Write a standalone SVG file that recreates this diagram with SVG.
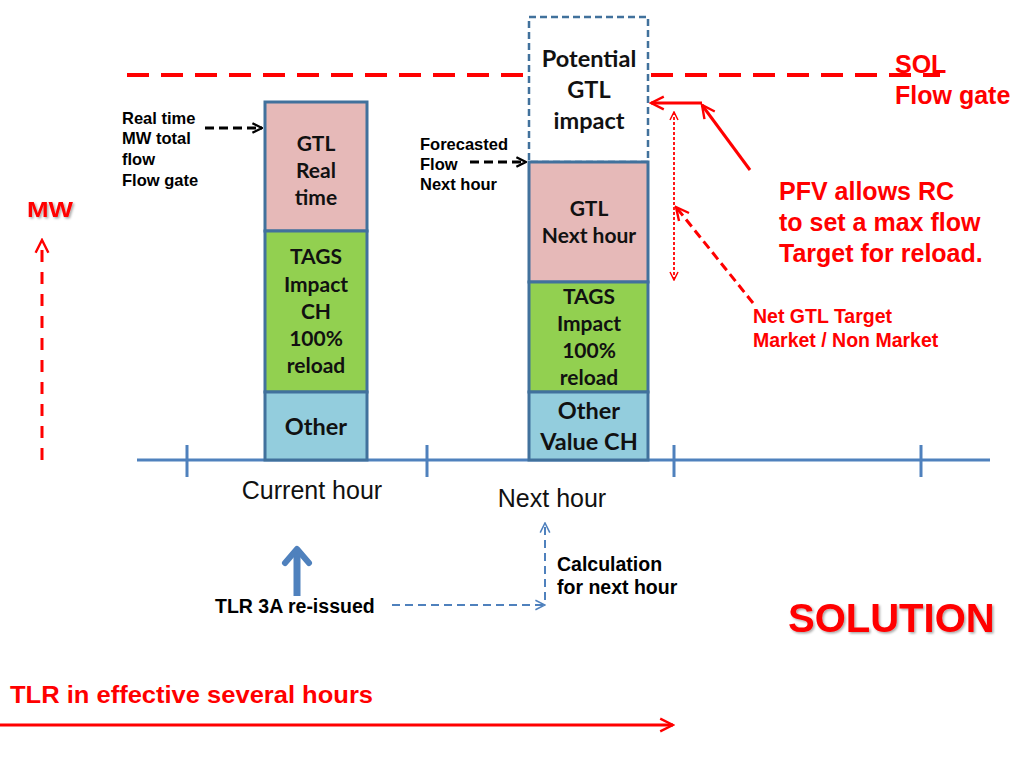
<svg xmlns="http://www.w3.org/2000/svg" width="1024" height="768" viewBox="0 0 1024 768">
<defs>
<style>
.bar{stroke:#41719C;stroke-width:3}
.pink{fill:#E6B9B8}.green{fill:#92D050}.blue{fill:#93CDDD}
.bt{font-family:Lato,"Open Sans",sans-serif;font-weight:bold;font-size:21px;fill:#111;text-anchor:middle}
.bl{font-family:Lato,"Open Sans",sans-serif;font-weight:bold;font-size:23.5px;fill:#111;text-anchor:middle}
.lab{font-family:"Liberation Sans",Arial,sans-serif;font-weight:bold;font-size:16.5px;fill:#000}
.lab2{font-family:"Liberation Sans",Arial,sans-serif;font-weight:bold;font-size:19.5px;fill:#000}
.red{font-family:"Liberation Sans",Arial,sans-serif;font-weight:bold;fill:#F00}
.reg{font-family:"Liberation Sans",Arial,sans-serif;font-size:25px;fill:#111;text-anchor:middle}
</style>
<marker id="ab" viewBox="0 0 10 10" refX="9" refY="5" markerWidth="12" markerHeight="12" orient="auto" markerUnits="userSpaceOnUse"><path d="M1,1 L9,5 L1,9" fill="none" stroke="#000" stroke-width="2"/></marker>
<marker id="ar" viewBox="0 0 10 10" refX="9" refY="5" markerWidth="16" markerHeight="16" orient="auto" markerUnits="userSpaceOnUse"><path d="M1,1 L9,5 L1,9" fill="none" stroke="#F00" stroke-width="1.5"/></marker>
<marker id="ars" viewBox="0 0 10 10" refX="9" refY="5" markerWidth="10" markerHeight="10" orient="auto-start-reverse" markerUnits="userSpaceOnUse"><path d="M1,1 L9,5 L1,9" fill="none" stroke="#F00" stroke-width="1.5"/></marker>
<marker id="abl" viewBox="0 0 10 10" refX="9" refY="5" markerWidth="12" markerHeight="12" orient="auto" markerUnits="userSpaceOnUse"><path d="M1,1 L9,5 L1,9" fill="none" stroke="#4F81BD" stroke-width="1.3"/></marker>
<filter id="sh" x="-10%" y="-10%" width="130%" height="140%"><feDropShadow dx="1.5" dy="1.5" stdDeviation="0.8" flood-color="#000" flood-opacity="0.35"/></filter>
</defs>
<rect width="1024" height="768" fill="#fff"/>

<g id="sol-line">
<line x1="127" y1="75" x2="528" y2="75" stroke="#F00" stroke-width="4" stroke-dasharray="22,12"/>
<line x1="651" y1="75" x2="940" y2="75" stroke="#F00" stroke-width="4" stroke-dasharray="22,12"/>
</g>

<g id="axis">
<line x1="137" y1="460" x2="990" y2="460" stroke="#4F81BD" stroke-width="3"/>
<line x1="187" y1="445" x2="187" y2="477" stroke="#4F81BD" stroke-width="3"/>
<line x1="427" y1="445" x2="427" y2="477" stroke="#4F81BD" stroke-width="3"/>
<line x1="674" y1="445" x2="674" y2="477" stroke="#4F81BD" stroke-width="3"/>
<line x1="921" y1="445" x2="921" y2="477" stroke="#4F81BD" stroke-width="3"/>
</g>

<g id="bar-current">
<rect class="bar pink" x="265" y="102" width="102" height="129"/>
<rect class="bar green" x="265" y="231" width="102" height="161"/>
<rect class="bar blue" x="265" y="392" width="102" height="68"/>
<text class="bt" x="316" y="151">GTL</text>
<text class="bt" x="316" y="178">Real</text>
<text class="bt" x="316" y="205">time</text>
<text class="bt" x="316" y="264">TAGS</text>
<text class="bt" x="316" y="292">Impact</text>
<text class="bt" x="316" y="319">CH</text>
<text class="bt" x="316" y="346">100%</text>
<text class="bt" x="316" y="373">reload</text>
<text class="bl" x="316" y="435">Other</text>
</g>

<g id="bar-next">
<rect x="529" y="17" width="119" height="145" fill="#fff" stroke="#41719C" stroke-width="2.5" stroke-dasharray="7,4"/>
<rect class="bar pink" x="529" y="162" width="119" height="120"/>
<rect class="bar green" x="529" y="282" width="119" height="110"/>
<rect class="bar blue" x="529" y="392" width="119" height="68"/>
<text class="bl" x="589" y="67">Potential</text>
<text class="bl" x="589" y="98">GTL</text>
<text class="bl" x="589" y="129">impact</text>
<text class="bt" x="589" y="216">GTL</text>
<text class="bt" x="589" y="243">Next hour</text>
<text class="bt" x="589" y="304">TAGS</text>
<text class="bt" x="589" y="331">Impact</text>
<text class="bt" x="589" y="358">100%</text>
<text class="bt" x="589" y="385">reload</text>
<text class="bl" x="589" y="419">Other</text>
<text class="bl" x="589" y="450">Value CH</text>
</g>

<g id="labels">
<text class="lab" x="122" y="124">Real time</text>
<text class="lab" x="122" y="144">MW total</text>
<text class="lab" x="122" y="165">flow</text>
<text class="lab" x="122" y="186">Flow gate</text>
<text class="lab" x="420" y="150">Forecasted</text>
<text class="lab" x="420" y="170">Flow</text>
<text class="lab" x="420" y="190">Next hour</text>
<text class="red" x="895" y="73" font-size="25">SOL</text>
<text class="red" x="895" y="104" font-size="25">Flow gate</text>
<text class="red" x="779" y="200" font-size="25">PFV allows RC</text>
<text class="red" x="779" y="231" font-size="25">to set a max flow</text>
<text class="red" x="779" y="262" font-size="25">Target for reload.</text>
<text class="red" x="753" y="323" font-size="19.5">Net GTL Target</text>
<text class="red" x="753" y="347" font-size="19.5">Market / Non Market</text>
<text class="red" x="27" y="217" font-size="22" textLength="46" lengthAdjust="spacingAndGlyphs" filter="url(#sh)">MW</text>
<text class="reg" x="312" y="499">Current hour</text>
<text class="reg" x="552" y="507">Next hour</text>
<text class="lab2" x="215" y="613">TLR 3A re-issued</text>
<text class="lab2" x="557" y="571">Calculation</text>
<text class="lab2" x="557" y="594">for next hour</text>
<text class="red" x="788" y="632" font-size="40" filter="url(#sh)">SOLUTION</text>
<text class="red" x="10" y="703" font-size="24" textLength="363" lengthAdjust="spacingAndGlyphs">TLR in effective several hours</text>
</g>

<g id="connectors">
<line x1="205" y1="128" x2="262" y2="128" stroke="#000" stroke-width="3" stroke-dasharray="9,5" marker-end="url(#ab)"/>
<line x1="470" y1="162" x2="526" y2="162" stroke="#000" stroke-width="3" stroke-dasharray="9,5" marker-end="url(#ab)"/>
<line x1="750" y1="170" x2="702" y2="105" stroke="#F00" stroke-width="3" marker-end="url(#ar)"/>
<line x1="702" y1="103" x2="651" y2="103" stroke="#F00" stroke-width="3" marker-end="url(#ar)"/>
<line x1="674" y1="112" x2="674" y2="280" stroke="#F00" stroke-width="1.8" stroke-dasharray="3,2" marker-start="url(#ars)" marker-end="url(#ars)"/>
<line x1="753" y1="303" x2="676" y2="207" stroke="#F00" stroke-width="3" stroke-dasharray="9,5" marker-end="url(#ar)"/>
<line x1="42" y1="460" x2="42" y2="240" stroke="#F00" stroke-width="3" stroke-dasharray="12,10" marker-end="url(#ar)"/>
<line x1="297" y1="596" x2="297" y2="550" stroke="#4F81BD" stroke-width="7"/>
<path d="M285,563 L297,549 L309,563" fill="none" stroke="#4F81BD" stroke-width="6" stroke-linecap="round" stroke-linejoin="round"/>
<line x1="392" y1="605" x2="545" y2="605" stroke="#4F81BD" stroke-width="2" stroke-dasharray="8,5" marker-end="url(#abl)"/>
<line x1="545" y1="600" x2="545" y2="523" stroke="#4F81BD" stroke-width="2" stroke-dasharray="8,5" marker-end="url(#abl)"/>
<line x1="0" y1="725" x2="673" y2="725" stroke="#F00" stroke-width="3" marker-end="url(#ar)"/>
</g>
</svg>
